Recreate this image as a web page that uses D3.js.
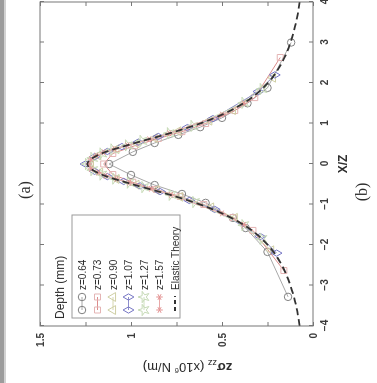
<!DOCTYPE html>
<html>
<head>
<meta charset="utf-8">
<script src="https://cdn.jsdelivr.net/npm/d3@7"></script>
<style>
  html, body { margin: 0; padding: 0; background: #fff; }
  svg { display: block; }
  text { font-family: "Liberation Sans", Arial, sans-serif; fill: #2e2e2e; }
</style>
</head>
<body>
<script>
// X/Z positions and z*sigma_zz values (x10^6 N/m), one pair of arrays per depth
var depthLabels = ['z=0.64', 'z=0.73', 'z=0.90', 'z=1.07', 'z=1.27', 'z=1.57'];

var tA = [-3.28, -2.17, -1.58, -1.33, -0.96, -0.74, -0.52, -0.27, 0, 0.30, 0.52, 0.72, 0.91, 1.14, 1.50, 1.88, 3.00];
var vA = [0.137, 0.25, 0.37, 0.44, 0.59, 0.72, 0.87, 1.00, 1.12, 0.99, 0.87, 0.74, 0.62, 0.50, 0.36, 0.25, 0.12];

var tB = [-2.63, -1.64, -1.32, -1.00, -0.80, -0.63, -0.45, -0.26, 0, 0.26, 0.45, 0.63, 0.80, 1.00, 1.32, 1.64, 2.63];
var vB = [0.16, 0.33, 0.44, 0.60, 0.73, 0.86, 0.99, 1.10, 1.15, 1.10, 0.98, 0.85, 0.72, 0.59, 0.43, 0.32, 0.18];

var tC = [-2.13, -1.33, -1.07, -0.81, -0.64, -0.51, -0.37, -0.21, 0, 0.21, 0.37, 0.51, 0.64, 0.81, 1.07, 1.33, 2.13];
var vC = [0.23, 0.43, 0.56, 0.73, 0.86, 0.97, 1.08, 1.17, 1.22, 1.18, 1.08, 0.97, 0.87, 0.74, 0.57, 0.44, 0.22];

var tD = [-2.20, -1.79, -1.12, -0.90, -0.68, -0.54, -0.43, -0.31, -0.18, 0, 0.18, 0.31, 0.43, 0.54, 0.68, 0.90, 1.12, 1.79, 2.20];
var vD = [0.20, 0.29, 0.54, 0.68, 0.84, 0.95, 1.04, 1.13, 1.20, 1.25, 1.20, 1.13, 1.05, 0.96, 0.85, 0.69, 0.55, 0.30, 0.21];

var tE = [-1.85, -1.51, -0.94, -0.76, -0.57, -0.46, -0.36, -0.26, -0.15, 0, 0.15, 0.26, 0.36, 0.46, 0.57, 0.76, 0.94, 1.51, 1.85];
var vE = [0.28, 0.38, 0.65, 0.78, 0.93, 1.01, 1.09, 1.16, 1.21, 1.24, 1.21, 1.16, 1.10, 1.02, 0.94, 0.79, 0.66, 0.38, 0.28];

var tF = [-1.50, -1.22, -0.76, -0.61, -0.46, -0.37, -0.29, -0.21, -0.12, 0, 0.12, 0.21, 0.29, 0.37, 0.46, 0.61, 0.76, 1.22, 1.50];
var vF = [0.38, 0.50, 0.78, 0.89, 1.01, 1.08, 1.14, 1.18, 1.22, 1.23, 1.22, 1.19, 1.15, 1.09, 1.02, 0.90, 0.79, 0.50, 0.38];

// elastic theory curve
var theoryT = [-4, -3.5, -3, -2.5, -2, -1.75, -1.5, -1.25, -1, -0.75, -0.5, -0.25, 0, 0.25, 0.5, 0.75, 1, 1.25, 1.5, 1.75, 2, 2.5, 3, 3.5, 4];
var theoryV = [0.073, 0.093, 0.124, 0.171, 0.248, 0.305, 0.382, 0.485, 0.62, 0.794, 0.992, 1.167, 1.24, 1.167, 0.992, 0.794, 0.62, 0.485, 0.382, 0.305, 0.248, 0.171, 0.124, 0.093, 0.073];

var xTicks = [-4, -3, -2, -1, 0, 1, 2, 3, 4];
var yTicks = [0, 0.25, 0.5, 0.75, 1, 1.25, 1.5];
var yLabels = ['0', '', '0.5', '', '1', '', '1.5'];

(function() {
    'use strict';

    var W = 377, H = 383;
    var svg = d3.select('body').append('svg')
        .attr('width', W)
        .attr('height', H);

    // soft look of the scanned figure
    svg.append('defs').append('filter')
        .attr('id', 'soft')
        .append('feGaussianBlur')
        .attr('stdDeviation', 0.45);

    // scan edge on the left
    svg.append('rect').attr('x', 0).attr('y', 0).attr('width', 4).attr('height', H).style('fill', '#9c9c9c');
    svg.append('rect').attr('x', 4).attr('y', 0).attr('width', 2).attr('height', H).style('fill', '#d2d2d2');

    // the figure is printed turned a quarter turn counter-clockwise
    var g = svg.append('g')
        .attr('transform', 'translate(0,' + H + ') rotate(-90)')
        .attr('filter', 'url(#soft)');

    var left = 57, right = 381, top = 40, bottom = 313;
    var x = d3.scaleLinear().domain([-4, 4]).range([left, right]);
    var y = d3.scaleLinear().domain([0, 1.5]).range([bottom, top]);

    var symStar = d3.symbolAsterisk || d3.symbolCross;
    var series = [
        { t: tA, v: vA, sym: d3.symbolCircle, mk: '#808080', ln: '#a8a8a8', size: 44 },
        { t: tB, v: vB, sym: d3.symbolSquare, mk: '#e4b4b4', ln: '#dc8c8c', size: 36 },
        { t: tC, v: vC, sym: d3.symbolTriangle, mk: '#cfcfa4', ln: '#d6d6b0', size: 34 },
        { t: tD, v: vD, sym: d3.symbolDiamond, mk: '#7676c4', ln: '#8e8ecc', size: 34 },
        { t: tE, v: vE, sym: d3.symbolStar, mk: '#c6dab6', ln: '#cde0be', size: 40 },
        { t: tF, v: vF, sym: symStar, mk: '#e49494', ln: '#e8a8a8', size: 30 }
    ];

    var line = d3.line()
        .x(function(d) { return x(d[0]); })
        .y(function(d) { return y(d[1]); });

    series.forEach(function(s) {
        var pts = s.t.map(function(t, i) { return [t, s.v[i]]; });
        g.append('path')
            .datum(pts)
            .attr('d', line)
            .style('fill', 'none')
            .style('stroke', s.ln)
            .style('stroke-width', 1);
        g.selectAll(null)
            .data(pts)
            .enter().append('path')
            .attr('transform', function(d) { return 'translate(' + x(d[0]) + ',' + y(d[1]) + ')'; })
            .attr('d', d3.symbol().type(s.sym).size(s.size))
            .style('fill', 'none')
            .style('stroke', s.mk)
            .style('stroke-width', 1);
    });

    var theory = theoryT.map(function(t, i) { return [t, theoryV[i]]; });
    g.append('path')
        .datum(theory)
        .attr('d', line.curve(d3.curveMonotoneX))
        .style('fill', 'none')
        .style('stroke', '#333')
        .style('stroke-width', 1.8)
        .style('stroke-dasharray', '7,4');
    line.curve(d3.curveLinear);

    // axes, ticks pointing in
    g.append('g').attr('transform', 'translate(0,' + bottom + ')')
        .call(d3.axisBottom(x).tickValues(xTicks).tickSizeInner(-4).tickSizeOuter(0).tickPadding(8)
            .tickFormat(function(d) { return d < 0 ? '\u2212' + Math.abs(d) : d; }));
    g.append('g').attr('transform', 'translate(0,' + top + ')')
        .call(d3.axisTop(x).tickValues(xTicks).tickSizeInner(-4).tickSizeOuter(0).tickFormat(''));
    g.append('g').attr('transform', 'translate(' + left + ',0)')
        .call(d3.axisLeft(y).tickValues(yTicks).tickSizeInner(-4).tickSizeOuter(0).tickPadding(7)
            .tickFormat(function(d, i) { return yLabels[i]; }));
    g.append('g').attr('transform', 'translate(' + right + ',0)')
        .call(d3.axisRight(y).tickValues(yTicks).tickSizeInner(-4).tickSizeOuter(0).tickFormat(''));

    g.selectAll('.domain').remove();
    g.selectAll('.tick line').style('stroke', '#777');
    g.selectAll('.tick text').style('font-size', '10px').style('font-weight', 'bold').style('fill', '#3a3a3a');

    g.append('rect')
        .attr('x', left).attr('y', top)
        .attr('width', right - left).attr('height', bottom - top)
        .style('fill', 'none').style('stroke', '#777').style('stroke-width', 1);

    // axis titles
    g.append('text')
        .attr('x', (left + right) / 2).attr('y', 347)
        .attr('text-anchor', 'middle')
        .style('font-size', '12px').style('font-weight', 'bold')
        .text('X/Z');

    var yt = g.append('text')
        .attr('transform', 'translate(20,' + ((top + bottom) / 2 + 11) + ') rotate(-90)')
        .attr('text-anchor', 'middle')
        .style('font-size', '13px');
    yt.append('tspan').style('font-weight', 'bold').text('z\u03c3');
    yt.append('tspan').attr('dy', 3).style('font-size', '9px').text('zz');
    yt.append('tspan').attr('dy', -3).text(' (x10');
    yt.append('tspan').attr('dy', -5).style('font-size', '8px').text('6');
    yt.append('tspan').attr('dy', 5).text(' N/m)');

    // panel letters
    g.append('text').attr('x', 193).attr('y', 30).attr('text-anchor', 'middle')
        .style('font-family', '"Liberation Serif", serif').style('font-size', '16px').text('(a)');
    g.append('text').attr('x', 191).attr('y', 367).attr('text-anchor', 'middle')
        .style('font-family', '"Liberation Serif", serif').style('font-size', '16px').text('(b)');

    // legend
    g.append('text').attr('x', 64).attr('y', 64).style('font-size', '12px').text('Depth (mm)');
    g.append('rect')
        .attr('x', 65).attr('y', 72).attr('width', 103).attr('height', 108)
        .style('fill', '#fff').style('stroke', '#9a9a9a').style('stroke-width', 1);

    var rowY = function(i) { return 82 + i * 15.5; };
    series.forEach(function(s, i) {
        var ry = rowY(i);
        g.append('line').attr('x1', 73).attr('x2', 86).attr('y1', ry).attr('y2', ry)
            .style('stroke', s.ln).style('stroke-width', 1);
        [73, 86].forEach(function(px) {
            g.append('path')
                .attr('transform', 'translate(' + px + ',' + ry + ')')
                .attr('d', d3.symbol().type(s.sym).size(s.size))
                .style('fill', 'none').style('stroke', s.mk).style('stroke-width', 1);
        });
        g.append('text').attr('x', 93).attr('y', ry + 3.5).style('font-size', '10px').text(depthLabels[i]);
    });
    var ey = rowY(6);
    g.append('line').attr('x1', 72).attr('x2', 87).attr('y1', ey).attr('y2', ey)
        .style('stroke', '#333').style('stroke-width', 1.8).style('stroke-dasharray', '4,3');
    g.append('text').attr('x', 93).attr('y', ey + 3.5).style('font-size', '10px').text('Elastic Theory');
}());
</script>
</body>
</html>
